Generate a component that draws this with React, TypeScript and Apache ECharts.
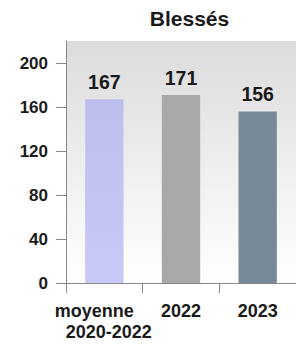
import React, { useEffect, useRef } from "react";
import * as echarts from "echarts";

const TITLE = "Blessés";
const CATEGORIES = ["moyenne\n2020-2022", "2022", "2023"];
const VALUES = [167, 171, 156];
const Y_TICKS = [0, 40, 80, 120, 160, 200];
const Y_MAX = 220;

const FONT = "'Liberation Sans', Arial, sans-serif";

export default function App() {
  const ref = useRef<HTMLDivElement>(null);
  useEffect(() => {
    if (!ref.current) return;
    const chart = echarts.init(ref.current, undefined, { renderer: "svg" });
    const barColors = [
      new echarts.graphic.LinearGradient(0, 0, 0, 1, [
        { offset: 0, color: "#bdbdee" },
        { offset: 1, color: "#c9c9f9" },
      ]),
      "#a8a8a8",
      "#778899",
    ];
    chart.setOption({
      animation: false,
      textStyle: { fontFamily: FONT },
      title: {
        text: TITLE,
        left: 189.5,
        top: 8,
        padding: 0,
        textAlign: "center",
        textStyle: { fontFamily: FONT, fontSize: 21, fontWeight: "bold", color: "#1a1a1a" },
      },
      grid: {
        left: 66,
        top: 41,
        right: -2,
        bottom: 61,
        show: true,
        borderWidth: 0,
        backgroundColor: new echarts.graphic.LinearGradient(0, 0, 0, 1, [
          { offset: 0, color: "#dcdcdc" },
          { offset: 1, color: "#ffffff" },
        ]),
      },
      xAxis: {
        type: "category",
        data: CATEGORIES,
        axisLine: { show: true, lineStyle: { color: "#888", width: 1 } },
        axisTick: { show: true, length: 10, alignWithLabel: false, lineStyle: { color: "#888" } },
        axisLabel: {
          margin: 17,
          interval: 0,
          color: "#1a1a1a",
          fontFamily: FONT,
          fontSize: 18,
          fontWeight: "bold",
          lineHeight: 21.5,
          formatter: (v: string) =>
            v.indexOf("\n") >= 0
              ? v
                  .split("\n")
                  .map((s, i) => (i === 0 ? "{a|" + s + "}" : "{b|" + s + "}"))
                  .join("\n")
              : v,
          rich: {
            a: {
              fontFamily: FONT,
              fontSize: 18,
              fontWeight: "bold",
              color: "#1a1a1a",
              lineHeight: 21.5,
              padding: [0, 20, 0, 0],
            },
            b: {
              fontFamily: FONT,
              fontSize: 18,
              fontWeight: "bold",
              color: "#1a1a1a",
              lineHeight: 21.5,
              padding: [0, 0, 0, 9],
            },
          },
        },
        splitLine: { show: false },
      },
      yAxis: {
        type: "value",
        min: 0,
        max: Y_MAX,
        interval: 40,
        axisLine: { show: true, lineStyle: { color: "#888", width: 1 } },
        axisTick: { show: true, length: 10, customValues: Y_TICKS, lineStyle: { color: "#888" } },
        axisLabel: {
          customValues: Y_TICKS,
          margin: 18,
          color: "#1a1a1a",
          fontFamily: FONT,
          fontSize: 17,
          fontWeight: "bold",
        },
        splitLine: { show: false },
      },
      series: [
        {
          type: "bar",
          barWidth: "50%",
          data: VALUES.map((v, i) => ({ value: v, itemStyle: { color: barColors[i] } })),
          label: {
            show: true,
            position: "top",
            distance: 7,
            color: "#1a1a1a",
            fontFamily: FONT,
            fontSize: 19.5,
            fontWeight: "bold",
          },
        },
      ],
    });
    return () => chart.dispose();
  }, []);
  return <div ref={ref} style={{ width: 296, height: 344, position: "absolute", left: 0, top: 0 }} />;
}
